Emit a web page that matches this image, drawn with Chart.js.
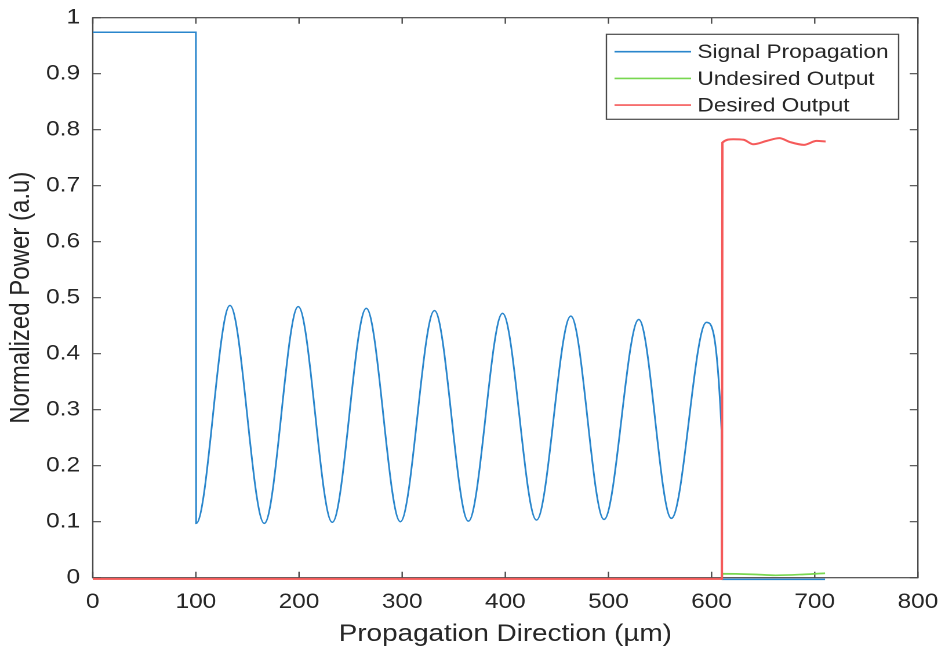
<!DOCTYPE html>
<html>
<head>
<meta charset="utf-8">
<script src="https://cdn.jsdelivr.net/npm/chart.js@4.4.1/dist/chart.umd.min.js"></script>
<style>
  html, body { margin: 0; padding: 0; background: #fff; overflow: hidden; }
  /* the reference is stretched sideways, so draw narrower and stretch */
  #wrap { width: 815px; height: 650px; transform: scaleX(1.1595); transform-origin: 0 0; }
</style>
</head>
<body>
<div id="wrap"><canvas id="chart" width="815" height="650"></canvas></div>
<script>
const xTicks = [0, 100, 200, 300, 400, 500, 600, 700, 800];
const yTicks = [0, 0.1, 0.2, 0.3, 0.4, 0.5, 0.6, 0.7, 0.8, 0.9, 1];
const yTickLabels = ["0", "0.1", "0.2", "0.3", "0.4", "0.5", "0.6", "0.7", "0.8", "0.9", "1"];

const seriesNames = ["Signal Propagation", "Undesired Output", "Desired Output"];

// Signal Propagation (blue)
const blueX = [0, 100, 100.2, 133, 166.3, 199.2, 232.2, 265.2, 298.2, 331.3, 364.2, 397.3, 430.2, 463.5, 495.7, 529.4, 561, 595, 609.6, 610, 710];
const blueY = [0.974, 0.974, 0.097, 0.486, 0.097, 0.484, 0.099, 0.481, 0.100, 0.477, 0.101, 0.472, 0.103, 0.467, 0.104, 0.461, 0.106, 0.456, 0.264, -0.003, -0.003];

// Undesired Output (green)
const greenX = [0, 610, 610.4, 640, 662, 690, 710];
const greenY = [-0.002, -0.002, 0.007, 0.006, 0.0043, 0.006, 0.008];

// Desired Output (red)
const redX = [0, 610, 610.5, 621, 631, 640.5, 653.5, 665.7, 676, 689.6, 701.9, 710.6];
const redY = [-0.002, -0.002, 0.777, 0.783, 0.782, 0.774, 0.780, 0.785, 0.778, 0.773, 0.780, 0.779];

const FONT = "'Liberation Sans', Arial, Helvetica, sans-serif";
const TEXT = "#262626";
const AXIS = "#4a4a4a";

const pts = (xs, ys) => xs.map((x, i) => ({ x: x, y: ys[i] }));

// drop the label overhang padding so the layout padding alone sets the plot box
const noOverhang = (s) => {
    s.paddingLeft = 0;
    s.paddingRight = 0;
    s.paddingTop = 0;
    s.paddingBottom = 0;
};

// box + inward ticks, drawn under the lines like MATLAB
const framePlugin = {
    id: "frame",
    beforeDatasetsDraw(chart) {
        const { ctx, chartArea: a, scales: { x, y } } = chart;
        ctx.save();
        ctx.strokeStyle = AXIS;
        ctx.lineWidth = 1.2;
        ctx.strokeRect(a.left, a.top, a.width, a.height);
        ctx.beginPath();
        x.ticks.forEach((t) => {
            const px = x.getPixelForValue(t.value);
            ctx.moveTo(px, a.bottom); ctx.lineTo(px, a.bottom - 6);
            ctx.moveTo(px, a.top); ctx.lineTo(px, a.top + 6);
        });
        y.ticks.forEach((t) => {
            const py = y.getPixelForValue(t.value);
            ctx.moveTo(a.left, py); ctx.lineTo(a.left + 7, py);
            ctx.moveTo(a.right, py); ctx.lineTo(a.right - 7, py);
        });
        ctx.stroke();
        ctx.restore();
    },
    afterDatasetsDraw(chart) {
        const { ctx, chartArea: a } = chart;
        const w = 252, h = 85;
        const bx = a.right - 16.6 - w;
        const by = a.top + 16.6;
        ctx.save();
        ctx.fillStyle = "#fff";
        ctx.fillRect(bx, by, w, h);
        ctx.strokeStyle = AXIS;
        ctx.lineWidth = 1.2;
        ctx.strokeRect(bx, by, w, h);
        ctx.font = "19.5px " + FONT;
        ctx.textBaseline = "middle";
        chart.data.datasets.forEach((d, i) => {
            const ry = by + 17.4 + i * 26.7;
            ctx.strokeStyle = d.borderColor;
            ctx.lineWidth = 1.6;
            ctx.beginPath();
            ctx.moveTo(bx + 7, ry);
            ctx.lineTo(bx + 73, ry);
            ctx.stroke();
            ctx.fillStyle = TEXT;
            ctx.fillText(d.label, bx + 78.5, ry + 1);
        });
        ctx.restore();
    },
};

new Chart(document.getElementById("chart"), {
    type: "line",
    data: {
        datasets: [
            {
                label: seriesNames[0],
                data: pts(blueX, blueY),
                borderColor: "#2a86cc",
                borderWidth: 1.5,
                cubicInterpolationMode: "monotone",
                clip: 5,
                order: 2,
            },
            {
                label: seriesNames[1],
                data: pts(greenX, greenY),
                borderColor: "rgb(120, 215, 80)",
                borderWidth: 1.7,
                cubicInterpolationMode: "monotone",
                clip: 5,
                order: 1,
            },
            {
                label: seriesNames[2],
                data: pts(redX, redY),
                borderColor: "rgb(245, 90, 90)",
                borderWidth: 2,
                cubicInterpolationMode: "monotone",
                clip: 5,
                order: 0,
            },
        ],
    },
    options: {
        responsive: false,
        devicePixelRatio: 2,
        animation: false,
        parsing: false,
        elements: { point: { radius: 0 } },
        layout: { padding: { top: 17.7, right: 23.4, left: 0, bottom: 0 } },
        plugins: {
            legend: { display: false },
            tooltip: { enabled: false },
        },
        scales: {
            x: {
                type: "linear",
                min: 0,
                max: 800,
                afterBuildTicks: (s) => { s.ticks = xTicks.map((v) => ({ value: v })); },
                afterFit: (s) => { s.height = 72.3; noOverhang(s); },
                grid: { display: false, drawTicks: false },
                border: { display: false },
                ticks: {
                    color: TEXT,
                    font: { family: FONT, size: 21 },
                    padding: 12,
                    maxRotation: 0,
                    autoSkip: false,
                    callback: (v) => String(v),
                },
                title: {
                    display: true,
                    text: "Propagation Direction (µm)",
                    color: TEXT,
                    font: { family: FONT, size: 24 },
                    padding: { top: 0, bottom: 1 },
                },
            },
            y: {
                type: "linear",
                min: 0,
                max: 1,
                afterBuildTicks: (s) => { s.ticks = yTicks.map((v) => ({ value: v })); },
                afterFit: (s) => { s.width = 80; noOverhang(s); },
                grid: { display: false, drawTicks: false },
                border: { display: false },
                ticks: {
                    color: TEXT,
                    font: { family: FONT, size: 21 },
                    padding: 11,
                    autoSkip: false,
                    callback: (v) => yTickLabels[yTicks.indexOf(v)],
                },
                title: {
                    display: true,
                    text: "Normalized Power (a.u)",
                    color: TEXT,
                    font: { family: FONT, size: 24 },
                    padding: { top: 4, bottom: 0 },
                },
            },
        },
    },
    plugins: [framePlugin],
});
</script>
</body>
</html>
